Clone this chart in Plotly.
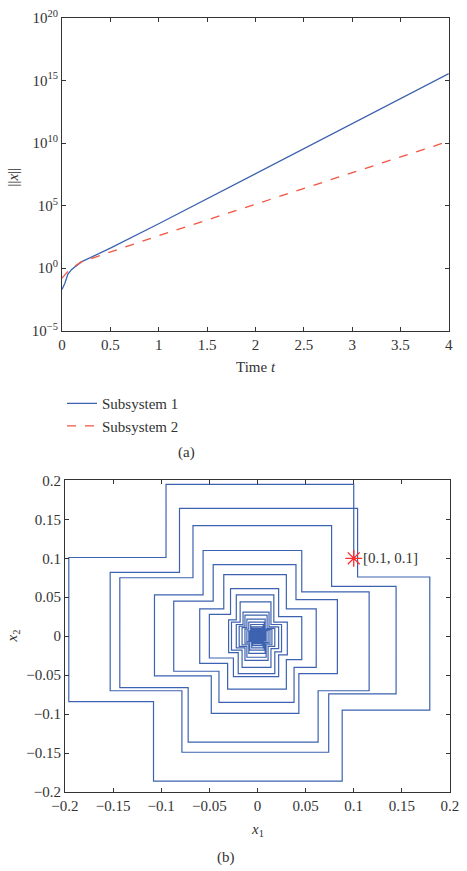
import plotly.graph_objects as go

# ---------- (a) norm vs time ----------
t_sub1 = [0, 0.03, 0.06, 0.1, 0.2, 0.3, 0.5, 1.0, 1.5, 2.0, 2.5, 3.0, 3.5, 4.0]
log_norm_sub1 = [-1.7, -1.2, -0.5, -0.1, 0.5, 0.85, 1.6, 3.55, 5.55, 7.55, 9.55, 11.55, 13.55, 15.55]
t_sub2 = [0, 0.04, 0.08, 0.2, 0.5, 1.0, 1.5, 2.0, 2.5, 3.0, 3.5, 4.0]
log_norm_sub2 = [-0.8, -0.45, -0.1, 0.5, 1.3, 2.6, 3.85, 5.1, 6.35, 7.6, 8.9, 10.15]

x_ticks_a = [0, 0.5, 1, 1.5, 2, 2.5, 3, 3.5, 4]
y_exp_a = [-5, 0, 5, 10, 15, 20]

# ---------- (b) phase portrait: corner values of each loop ----------
start_pt = (0.1, 0.1)
top_right_x   = [0.100, 0.104, 0.077, 0.046, 0.040, 0.030, 0.022, 0.017, 0.014, 0.012, 0.010, 0.008, 0.007, 0.006, 0.005, 0.004, 0.0035, 0.003, 0.0025, 0.002, 0.0017, 0.0014, 0.0011, 0.0008, 0.0005]
top_y         = [0.195, 0.164, 0.142, 0.110, 0.092, 0.079, 0.061, 0.053, 0.044, 0.031, 0.027, 0.022, 0.018, 0.015, 0.012, 0.010, 0.009, 0.008, 0.007, 0.006, 0.005, 0.004, 0.003, 0.002, 0.0012]
top_left_x    = [-0.095, -0.081, -0.067, -0.0565, -0.046, -0.035, -0.028, -0.022, -0.018, -0.015, -0.013, -0.011, -0.009, -0.007, -0.006, -0.005, -0.0045, -0.004, -0.0035, -0.003, -0.0025, -0.002, -0.0015, -0.001, -0.0006]
left_up_y     = [0.101, 0.082, 0.075, 0.053, 0.045, 0.035, 0.028, 0.021, 0.018, 0.015, 0.013, 0.011, 0.009, 0.007, 0.006, 0.005, 0.0045, 0.004, 0.0035, 0.003, 0.0025, 0.002, 0.0015, 0.001, 0.0006]
left_x        = [-0.196, -0.153, -0.143, -0.107, -0.087, -0.060, -0.050, -0.030, -0.027, -0.022, -0.019, -0.016, -0.013, -0.011, -0.009, -0.008, -0.007, -0.006, -0.005, -0.0045, -0.004, -0.003, -0.0025, -0.0018, -0.001]
left_down_y   = [-0.084, -0.070, -0.066, -0.051, -0.045, -0.035, -0.028, -0.021, -0.018, -0.015, -0.013, -0.011, -0.009, -0.007, -0.006, -0.005, -0.0045, -0.004, -0.0035, -0.003, -0.0025, -0.002, -0.0015, -0.001, -0.0006]
bottom_left_x = [-0.108, -0.0785, -0.072, -0.048, -0.040, -0.031, -0.025, -0.020, -0.016, -0.013, -0.011, -0.009, -0.008, -0.006, -0.005, -0.0045, -0.004, -0.0035, -0.003, -0.0025, -0.002, -0.0016, -0.0012, -0.0008, -0.0005]
bottom_y      = [-0.186, -0.149, -0.136, -0.099, -0.085, -0.068, -0.052, -0.048, -0.040, -0.031, -0.027, -0.022, -0.018, -0.015, -0.012, -0.010, -0.009, -0.008, -0.007, -0.006, -0.005, -0.004, -0.003, -0.002, -0.0012]
bottom_right_x= [0.088, 0.074, 0.063, 0.043, 0.038, 0.030, 0.022, 0.018, 0.014, 0.011, 0.009, 0.008, 0.007, 0.006, 0.005, 0.0045, 0.004, 0.0035, 0.003, 0.0025, 0.002, 0.0016, 0.0012, 0.0008, 0.0005]
right_down_y  = [-0.095, -0.074, -0.070, -0.048, -0.040, -0.030, -0.024, -0.020, -0.016, -0.013, -0.011, -0.009, -0.008, -0.006, -0.005, -0.0045, -0.004, -0.0035, -0.003, -0.0025, -0.002, -0.0016, -0.0012, -0.0008, -0.0005]
right_x       = [0.179, 0.144, 0.116, 0.083, 0.061, 0.046, 0.031, 0.025, 0.022, 0.018, 0.015, 0.013, 0.011, 0.009, 0.008, 0.007, 0.006, 0.0055, 0.005, 0.0045, 0.004, 0.003, 0.0023, 0.0016, 0.001]
right_up_y    = [0.076, 0.064, 0.057, 0.047, 0.035, 0.025, 0.018, 0.015, 0.012, 0.010, 0.009, 0.008, 0.007, 0.006, 0.005, 0.0045, 0.004, 0.0035, 0.003, 0.0025, 0.002, 0.0016, 0.0012, 0.0008, 0.0004]

ticks_b = [-0.2, -0.15, -0.1, -0.05, 0, 0.05, 0.1, 0.15, 0.2]
tick_text_b = ["\u22120.2", "\u22120.15", "\u22120.1", "\u22120.05", "0", "0.05", "0.1", "0.15", "0.2"]

# build path
px, py = [start_pt[0]], [start_pt[1]]
for k in range(len(top_y)):
    if k > 0:
        px.append(top_right_x[k]); py.append(right_up_y[k - 1])
    pts = [
        (top_right_x[k], top_y[k]), (top_left_x[k], top_y[k]),
        (top_left_x[k], left_up_y[k]), (left_x[k], left_up_y[k]),
        (left_x[k], left_down_y[k]), (bottom_left_x[k], left_down_y[k]),
        (bottom_left_x[k], bottom_y[k]), (bottom_right_x[k], bottom_y[k]),
        (bottom_right_x[k], right_down_y[k]), (right_x[k], right_down_y[k]),
        (right_x[k], right_up_y[k]),
    ]
    for a, b in pts:
        px.append(a); py.append(b)

BLUE = "#3d62b0"
RED = "#f2553f"
FONT = "Liberation Serif"
TXT = "#333333"
FS = 15

fig = go.Figure()
fig.add_trace(go.Scatter(x=t_sub1, y=[10 ** v for v in log_norm_sub1], mode="lines",
                         line=dict(color=BLUE, width=1.3), name="Subsystem 1",
                         xaxis="x", yaxis="y"))
fig.add_trace(go.Scatter(x=t_sub2, y=[10 ** v for v in log_norm_sub2], mode="lines",
                         line=dict(color=RED, width=1.3, dash="dash"), name="Subsystem 2",
                         xaxis="x", yaxis="y"))
fig.add_trace(go.Scatter(x=px, y=py, mode="lines", line=dict(color=BLUE, width=1.2),
                         showlegend=False, xaxis="x2", yaxis="y2"))
fig.add_trace(go.Scatter(x=[start_pt[0]], y=[start_pt[1]], mode="markers",
                         marker=dict(symbol="asterisk", size=14,
                                     line=dict(color="#ff2a2a", width=1.3)),
                         showlegend=False, xaxis="x2", yaxis="y2"))

axis_common = dict(showline=True, linecolor=TXT, linewidth=1, mirror="ticks",
                   ticks="inside", ticklen=4, tickcolor=TXT, showgrid=False,
                   zeroline=False, tickfont=dict(family=FONT, size=FS, color=TXT))


def ann(text, x, y, angle=0):
    return dict(text=text, x=x, y=y, xref="paper", yref="paper", xanchor="center",
                yanchor="middle", showarrow=False, textangle=angle,
                font=dict(family=FONT, size=FS, color=TXT))


fig.update_layout(
    width=467, height=871, autosize=False,
    margin=dict(l=62, r=8, t=17, b=79),
    paper_bgcolor="white", plot_bgcolor="white",
    font=dict(family=FONT, size=FS, color=TXT),
    xaxis=dict(domain=[0, 0.997], anchor="y", range=[0, 4],
               tickvals=x_ticks_a, ticktext=[str(v) for v in x_ticks_a], **axis_common),
    yaxis=dict(domain=[0.596, 1], anchor="x", type="log", range=[-5, 20],
               tickvals=[10.0 ** e for e in y_exp_a],
               ticktext=["10<sup>%s</sup>" % (str(e).replace("-", "\u2212")) for e in y_exp_a],
               **axis_common),
    xaxis2=dict(domain=[0.0076, 1], anchor="y2", range=[-0.2, 0.2],
                tickvals=ticks_b, ticktext=tick_text_b, **axis_common),
    yaxis2=dict(domain=[0, 0.4026], anchor="x2", range=[-0.2, 0.2],
                tickvals=ticks_b, ticktext=tick_text_b, **axis_common),
    legend=dict(x=0.0, y=0.523, xanchor="left", yanchor="top",
                bgcolor="rgba(0,0,0,0)", borderwidth=0,
                font=dict(family=FONT, size=FS, color=TXT), tracegroupgap=0),
    annotations=[
        ann("Time <i>t</i>", 0.499, 0.549),
        ann("||<i>x</i>||", -0.126, 0.794, -90),
        ann("(a)", 0.322, 0.439),
        ann("<i>x</i><sub>2</sub>", -0.126, 0.201, -90),
        ann("<i>x</i><sub>1</sub>", 0.504, -0.049),
        ann("(b)", 0.423, -0.085),
        dict(text="[0.1, 0.1]", x=0.108, y=0.1, xref="x2", yref="y2", xanchor="left",
             yanchor="middle", showarrow=False, font=dict(family=FONT, size=FS, color=TXT)),
    ],
)

fig.write_html("out.html")
